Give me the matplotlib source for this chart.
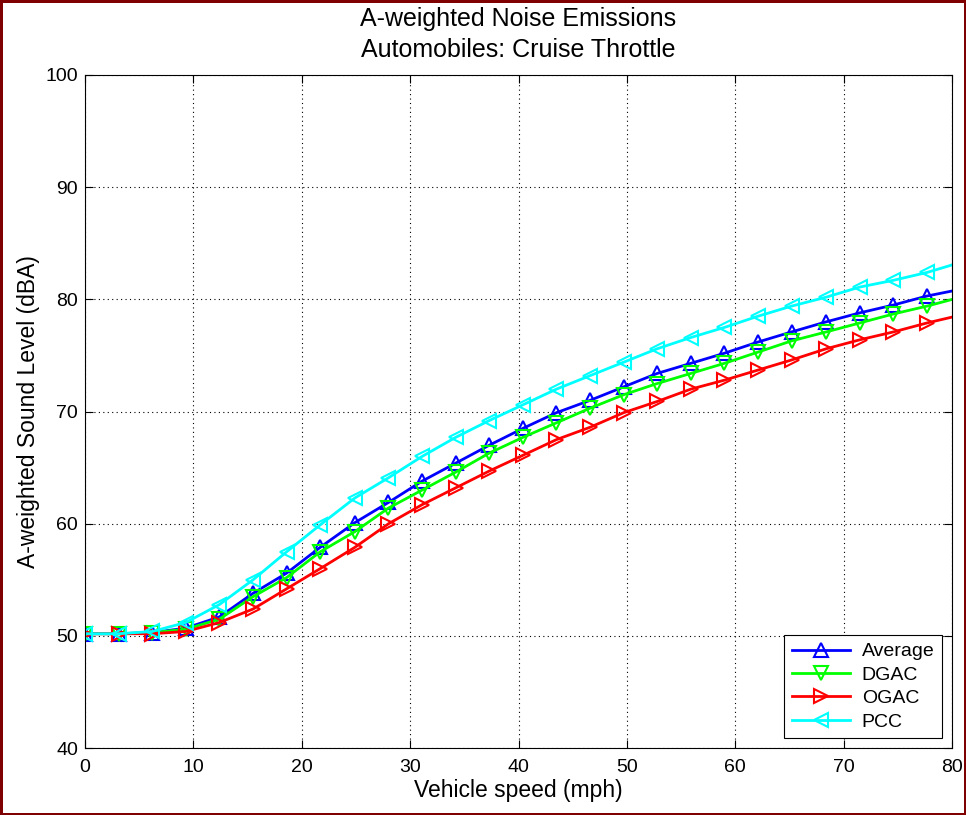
import matplotlib
matplotlib.use("Agg")
import matplotlib.pyplot as plt

plt.rcParams["font.family"] = ["Liberation Sans", "DejaVu Sans"]

# speeds every 5 km/h, expressed in mph
speed_mph = [0.0, 3.1, 6.2, 9.3, 12.4, 15.5, 18.6, 21.7, 24.9, 28.0, 31.1, 34.2,
             37.3, 40.4, 43.5, 46.6, 49.7, 52.8, 55.9, 59.0, 62.1, 65.2, 68.4,
             71.5, 74.6, 77.7, 80.8]

average = [50.2, 50.2, 50.3, 50.7, 51.7, 53.8, 55.6, 57.9, 60.1, 61.9, 63.8, 65.4,
           67.0, 68.5, 69.9, 71.0, 72.2, 73.4, 74.3, 75.2, 76.2, 77.1, 78.0,
           78.8, 79.5, 80.3, 80.9]
dgac = [50.2, 50.2, 50.3, 50.6, 51.5, 53.5, 55.2, 57.5, 59.3, 61.4, 63.0, 64.6,
        66.3, 67.7, 69.0, 70.3, 71.5, 72.5, 73.4, 74.3, 75.3, 76.3, 77.1,
        77.9, 78.7, 79.4, 80.2]
ogac = [50.2, 50.2, 50.2, 50.4, 51.2, 52.4, 54.2, 56.0, 57.9, 60.0, 61.7, 63.2,
        64.7, 66.1, 67.5, 68.6, 69.9, 70.9, 72.0, 72.8, 73.7, 74.6, 75.6,
        76.4, 77.1, 77.9, 78.6]
pcc = [50.2, 50.2, 50.4, 51.2, 52.8, 55.0, 57.5, 59.9, 62.3, 64.1, 66.0, 67.7,
       69.2, 70.6, 72.0, 73.2, 74.4, 75.6, 76.6, 77.5, 78.5, 79.4, 80.2,
       81.1, 81.7, 82.4, 83.3]

series = [("Average", average, "#0000ff", "^"),
          ("DGAC", dgac, "#00ff00", "v"),
          ("OGAC", ogac, "#ff0000", ">"),
          ("PCC", pcc, "#00ffff", "<")]

fig = plt.figure(figsize=(9.66, 8.15), dpi=100)
fig.patch.set_edgecolor("#7f0000")
fig.patch.set_linewidth(2.5)
ax = fig.add_axes([0.088, 0.082, 0.8975, 0.826])

for name, vals, col, mk in series:
    ax.plot(speed_mph, vals, color=col, lw=2, marker=mk, ms=10,
            mfc="none", mec=col, mew=1.5, label=name)

ax.set_xlim(0, 80)
ax.set_ylim(40, 100)
ax.set_xticks(range(0, 81, 10))
ax.set_yticks(range(40, 101, 10))
ax.grid(True, color="black", linestyle=(0, (1, 3)), linewidth=0.8)
ax.tick_params(direction="in", top=True, right=True, labelsize=14, length=6,
               pad=5)
ax.tick_params(axis="x", pad=8)
for s in ax.spines.values():
    s.set_linewidth(0.8)

ax.set_xlabel("Vehicle speed (mph)", fontsize=16.5, labelpad=2)
ax.set_ylabel("A-weighted Sound Level (dBA)", fontsize=16.5, labelpad=4)
ax.set_title("A-weighted Noise Emissions\nAutomobiles: Cruise Throttle",
             fontsize=18, linespacing=1.35, pad=13)

leg = ax.legend(loc="lower right", fontsize=14, fancybox=False, framealpha=1,
                edgecolor="black", handlelength=3.0, borderaxespad=0.5,
                labelspacing=0.3, borderpad=0.4, handletextpad=0.6)
leg.get_frame().set_linewidth(0.8)

fig.savefig("out.png", dpi=100, edgecolor=fig.get_edgecolor())
